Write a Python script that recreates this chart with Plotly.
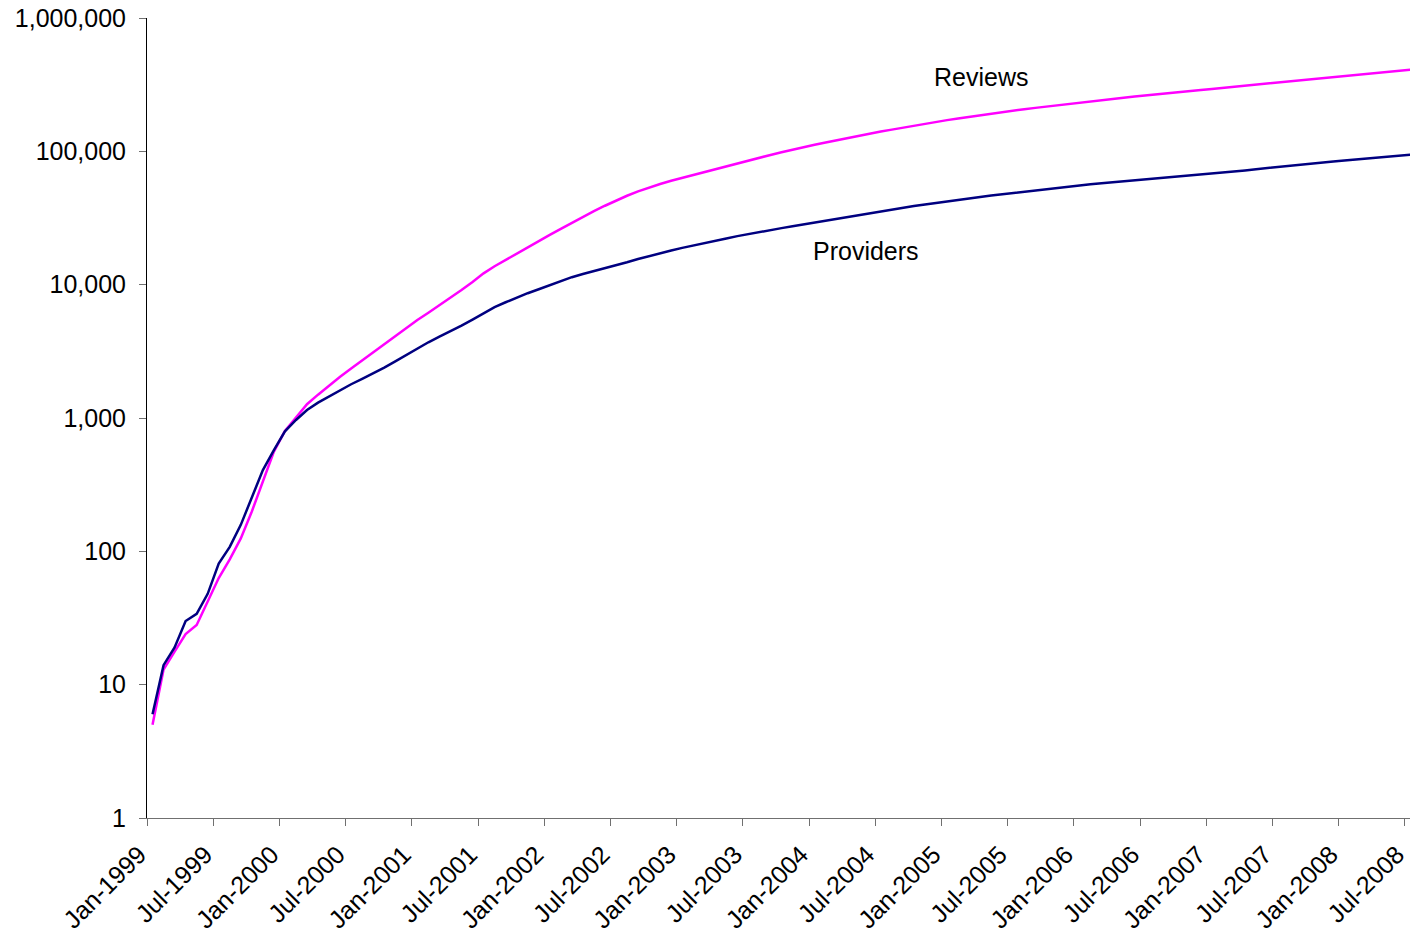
import plotly.graph_objects as go

months = ["Jan", "Feb", "Mar", "Apr", "May", "Jun", "Jul", "Aug", "Sep", "Oct", "Nov", "Dec"]
categories = [f"{months[m]}-{y}" for y in range(1999, 2009) for m in range(12)][:115]  # Jan-1999 .. Jul-2008

providers = [
    6, 14, 19, 30, 34, 48, 81, 108, 158, 251, 407, 575, 794,
    966, 1148,
    1303, 1455, 1622, 1791, 1968, 2163, 2388, 2655, 2965, 3327,
    3698, 4074, 4467, 4932, 5470, 6095, 6792, 7379, 7998, 8630,
    9247, 9908, 10620, 11380, 12020, 12620, 13240, 13930, 14720, 15560,
    16410, 17220, 18030, 18880, 19720, 20560, 21380, 22230, 23120, 23990,
    24830, 25700, 26550, 27420, 28310, 29310, 30340, 31410, 32510, 33570,
    34670, 35730, 36810, 37840, 38900, 39990, 41110, 42170, 43250, 44360,
    45500, 46560, 47640, 48750, 49890, 51050, 52240, 53330, 54450, 55590,
    56620, 57680, 58610, 59570, 60530, 61520, 62520, 63530, 64570, 65610,
    66680, 67920, 69180, 70470, 71940, 73450, 74990, 76560, 77980, 79430,
    80910, 82410, 83950, 85510, 86900, 88310, 89740, 91200, 92680, 94190,
]

reviews = [
    5, 13, 17.7, 24, 28, 42, 63, 87, 125, 199, 333, 560, 800, 1000,
    1268, 1496, 1758, 2042, 2355, 2710, 3119, 3589, 4130, 4753, 5433, 6166, 6998, 7943, 9120, 10470,
    12160, 13740, 15350, 17140, 19100, 21230, 23600, 26240, 29110, 32210, 35560, 39080, 42760, 46450,
    50120, 53580, 56890, 60120, 63240, 66530, 69980, 73620, 77450, 81280, 85310, 89540, 93970, 98400,
    103000, 107400, 111900, 116400, 121100, 125900, 130600, 135500, 140600, 145500,
    150700, 156000, 161100, 166300, 171400, 176600, 181600, 186600, 191900, 196800,
    201800, 207000, 211800, 216800, 221800, 227000, 232300, 237100, 242100, 247200,
    252400, 257600, 263000, 267900, 272900, 278000, 283100, 288400, 293800, 299200,
    304800, 310500, 316200, 322100, 328100, 334200, 340400, 346700, 353200, 359700,
    366400, 373300, 380200, 387300, 394500, 401800, 409300,
]

y_tick_vals = [1, 10, 100, 1000, 10000, 100000, 1000000]
y_tick_text = ["1", "10", "100", "1,000", "10,000", "100,000", "1,000,000"]

# points sit in the middle of each monthly category
xpos = [i + 0.5 for i in range(len(categories))]
x_tick_vals = list(range(0, len(categories), 6))
x_tick_text = [categories[i] for i in x_tick_vals]

FONT = "Arial, Liberation Sans, sans-serif"
TICKFONT = dict(family=FONT, size=25, color="black")

fig = go.Figure()
fig.add_trace(go.Scatter(x=xpos, y=reviews, mode="lines", name="Reviews",
                         line=dict(color="#FF00FF", width=2.5)))
fig.add_trace(go.Scatter(x=xpos, y=providers, mode="lines", name="Providers",
                         line=dict(color="#000080", width=2.5)))

fig.add_annotation(x=75.6, y=5.557, text="Reviews", showarrow=False,
                   font=dict(family=FONT, size=25, color="black"))
fig.add_annotation(x=65.2, y=4.2525, text="Providers", showarrow=False,
                   font=dict(family=FONT, size=25, color="black"))

fig.update_layout(
    width=1410, height=938,
    margin=dict(l=147, r=0, t=18, b=120),
    paper_bgcolor="white", plot_bgcolor="white",
    showlegend=False,
    font=dict(family=FONT, size=25, color="black"),
)
fig.update_xaxes(
    range=[0, 1263 / 11.035],
    tickmode="array", tickvals=x_tick_vals, ticktext=x_tick_text,
    tickangle=-45, ticks="outside", ticklen=7, tickcolor="#707070",
    showline=True, linecolor="#707070", linewidth=1,
    showgrid=False, zeroline=False,
    automargin=False,
    ticklabeloverflow="allow",
    ticklabelstandoff=4, ticklabelshift=-8,
    tickfont=TICKFONT,
)
fig.update_yaxes(
    type="log", range=[0, 6],
    tickmode="array", tickvals=y_tick_vals, ticktext=y_tick_text,
    ticks="outside", ticklen=7, tickcolor="#707070",
    showline=True, linecolor="black", linewidth=1,
    showgrid=False, zeroline=False,
    automargin=False,
    ticklabelstandoff=8,
    tickfont=TICKFONT,
)

fig.write_html("out.html")
